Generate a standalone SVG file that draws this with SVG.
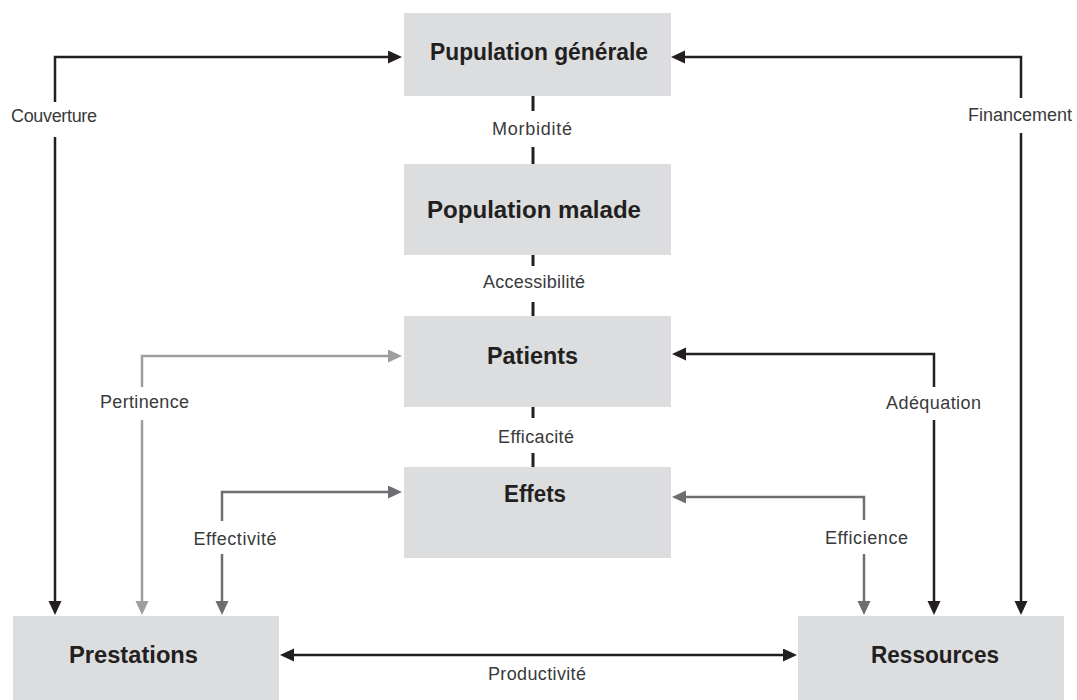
<svg xmlns="http://www.w3.org/2000/svg" width="1077" height="700" viewBox="0 0 1077 700">
<style>
.box{fill:#dcdddf}
.nt{font-family:"Liberation Sans",Arial,sans-serif;font-weight:bold;font-size:23px;fill:#231f20;text-anchor:middle}
.lb{font-family:"Liberation Sans",Arial,sans-serif;font-size:18px;fill:#3a3a3a;text-anchor:middle}
.k{fill:none;stroke:#231f20;stroke-width:2.5}
.g1{fill:none;stroke:#9d9ea0;stroke-width:2.5}
.g2{fill:none;stroke:#6d6e71;stroke-width:2.5}
.dash{fill:none;stroke:#231f20;stroke-width:3}
</style>
<defs>
<marker id="ak" markerUnits="userSpaceOnUse" markerWidth="15" markerHeight="14" refX="1" refY="6.5" orient="auto-start-reverse"><path d="M0,0 L14,6.5 L0,13 z" fill="#231f20"/></marker>
<marker id="a1" markerUnits="userSpaceOnUse" markerWidth="15" markerHeight="14" refX="1" refY="6.5" orient="auto-start-reverse"><path d="M0,0 L14,6.5 L0,13 z" fill="#9d9ea0"/></marker>
<marker id="a2" markerUnits="userSpaceOnUse" markerWidth="15" markerHeight="14" refX="1" refY="6.5" orient="auto-start-reverse"><path d="M0,0 L14,6.5 L0,13 z" fill="#6d6e71"/></marker>
</defs>
<rect width="1077" height="700" fill="#ffffff"/>
<g id="nodes">
<g id="n-pop-gen"><rect class="box" x="404" y="13" width="267" height="83"/><text class="nt" x="539" y="60" textLength="218" lengthAdjust="spacingAndGlyphs">Pupulation générale</text></g>
<g id="n-pop-mal"><rect class="box" x="404" y="164" width="267" height="91"/><text class="nt" x="534" y="218" textLength="214" lengthAdjust="spacingAndGlyphs">Population malade</text></g>
<g id="n-patients"><rect class="box" x="404" y="316" width="267" height="91"/><text class="nt" x="532.5" y="364" textLength="91" lengthAdjust="spacingAndGlyphs">Patients</text></g>
<g id="n-effets"><rect class="box" x="404" y="467" width="267" height="91"/><text class="nt" x="535" y="502" textLength="62" lengthAdjust="spacingAndGlyphs">Effets</text></g>
<g id="n-prestations"><rect class="box" x="13" y="616" width="266" height="84"/><text class="nt" x="133.5" y="663" textLength="129" lengthAdjust="spacingAndGlyphs">Prestations</text></g>
<g id="n-ressources"><rect class="box" x="798" y="616" width="266" height="84"/><text class="nt" x="935" y="663" textLength="128" lengthAdjust="spacingAndGlyphs">Ressources</text></g>
</g>
<g id="connectors">
<line class="dash" x1="533" y1="96" x2="533" y2="111"/>
<line class="dash" x1="533" y1="147" x2="533" y2="164"/>
<text class="lb" x="532" y="135" textLength="80">Morbidité</text>
<line class="dash" x1="533" y1="255" x2="533" y2="266"/>
<line class="dash" x1="533" y1="302" x2="533" y2="316"/>
<text class="lb" x="534" y="288" textLength="102">Accessibilité</text>
<line class="dash" x1="533" y1="407" x2="533" y2="418"/>
<line class="dash" x1="533" y1="453" x2="533" y2="467"/>
<text class="lb" x="536" y="443" textLength="76">Efficacité</text>

<path class="k" d="M389,57 L55,57 L55,102" marker-start="url(#ak)"/>
<path class="k" d="M55,137 L55,602" marker-end="url(#ak)"/>
<text class="lb" x="54" y="122" textLength="86">Couverture</text>

<path class="k" d="M684,57 L1021,57 L1021,98" marker-start="url(#ak)"/>
<path class="k" d="M1021,133 L1021,602" marker-end="url(#ak)"/>
<text class="lb" x="1020" y="121" textLength="104">Financement</text>

<path class="g1" d="M389,356 L142,356 L142,387" marker-start="url(#a1)"/>
<path class="g1" d="M142,420 L142,602" marker-end="url(#a1)"/>
<text class="lb" x="144.5" y="408" textLength="89">Pertinence</text>

<path class="g2" d="M389,492 L222,492 L222,521" marker-start="url(#a2)"/>
<path class="g2" d="M222,554 L222,602" marker-end="url(#a2)"/>
<text class="lb" x="235" y="545" textLength="83">Effectivité</text>

<path class="k" d="M685,354 L934,354 L934,387" marker-start="url(#ak)"/>
<path class="k" d="M934,420 L934,602" marker-end="url(#ak)"/>
<text class="lb" x="933.5" y="409" textLength="95">Adéquation</text>

<path class="g2" d="M685,497 L864,497 L864,520" marker-start="url(#a2)"/>
<path class="g2" d="M864,554 L864,602" marker-end="url(#a2)"/>
<text class="lb" x="866.5" y="544" textLength="83">Efficience</text>

<path class="k" d="M293,655 L784,655" marker-start="url(#ak)" marker-end="url(#ak)"/>
<text class="lb" x="537" y="680" textLength="98">Productivité</text>
</g>
</svg>
